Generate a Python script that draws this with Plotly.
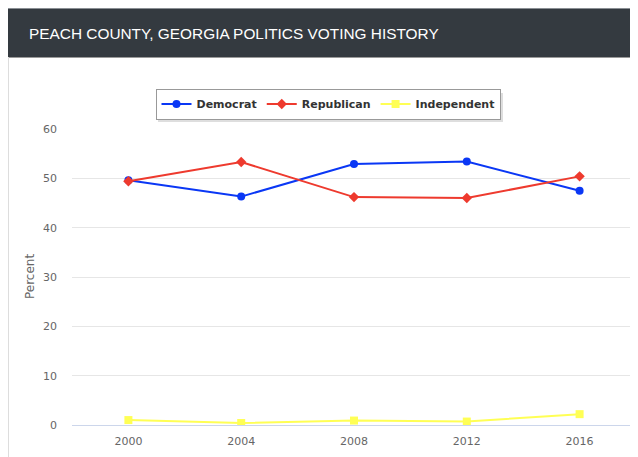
import plotly.graph_objects as go

years = ["2000", "2004", "2008", "2012", "2016"]
democrat = [49.6, 46.3, 52.9, 53.4, 47.5]
republican = [49.4, 53.3, 46.2, 46.0, 50.4]
independent = [1.0, 0.4, 0.9, 0.7, 2.2]
y_ticks = [0, 10, 20, 30, 40, 50, 60]

# page body has an 8px margin, so the figure is placed at (8, 8)
OFF = 8
W, H = 630, 449
L, R, T, B = 64, 2, 121, 32
pw, ph = W - L - R, H - T - B

def px(x):
    return (x - OFF - L) / pw

def py(y):
    return (H - B - (y - OFF)) / ph

fig = go.Figure()
fig.add_trace(go.Scatter(x=years, y=democrat, name="Democrat", mode="lines+markers",
                         line=dict(color="#0a37f5", width=2),
                         marker=dict(symbol="circle", size=8, color="#0a37f5")))
fig.add_trace(go.Scatter(x=years, y=republican, name="Republican", mode="lines+markers",
                         line=dict(color="#ee3a2e", width=2),
                         marker=dict(symbol="diamond", size=8, color="#ee3a2e")))
fig.add_trace(go.Scatter(x=years, y=independent, name="Independent", mode="lines+markers",
                         line=dict(color="#ffff55", width=2),
                         marker=dict(symbol="square", size=8, color="#ffff55")))

shapes = [
    # header bar
    dict(type="rect", xref="paper", yref="paper", x0=px(8), x1=px(640), y0=py(57), y1=py(8),
         fillcolor="#343a40", line=dict(width=0), layer="below"),
    # header top line
    dict(type="line", xref="paper", yref="paper", x0=px(8), x1=px(640), y0=py(8.5), y1=py(8.5),
         line=dict(color="#8a8f94", width=1), layer="below"),
    # header bottom line
    dict(type="line", xref="paper", yref="paper", x0=px(8), x1=px(640), y0=py(57.5), y1=py(57.5),
         line=dict(color="#9a9a9a", width=1), layer="below"),
    # card left border
    dict(type="line", xref="paper", yref="paper", x0=px(8.5), x1=px(8.5), y0=py(57), y1=py(470),
         line=dict(color="#dddddd", width=1), layer="below"),
    # legend shadow
    dict(type="rect", xref="paper", yref="paper", x0=px(158), x1=px(503), y0=py(122), y1=py(93),
         fillcolor="rgba(0,0,0,0.13)", line=dict(width=0), layer="below"),
]

annotations = [
    dict(text="PEACH COUNTY, GEORGIA POLITICS VOTING HISTORY", xref="paper", yref="paper",
         x=px(27), y=py(33), xanchor="left", yanchor="middle", showarrow=False,
         font=dict(family="Liberation Sans, Arial, sans-serif", size=15.4, color="#ffffff")),
    dict(text="Percent", xref="paper", yref="paper", x=px(30), y=py(277), textangle=-90,
         xanchor="center", yanchor="middle", showarrow=False,
         font=dict(family="DejaVu Sans, sans-serif", size=12, color="#666666")),
]

fig.update_layout(
    width=W, height=H,
    margin=dict(l=L, r=R, t=T, b=B, pad=0),
    paper_bgcolor="white", plot_bgcolor="white",
    shapes=shapes, annotations=annotations,
    showlegend=True,
    legend=dict(orientation="h", x=px(328), y=py(104), xanchor="center", yanchor="middle",
                bgcolor="white", bordercolor="#999999", borderwidth=1,
                font=dict(family="DejaVu Sans, sans-serif", size=11, color="#333333", weight="bold"),
                itemwidth=30, tracegroupgap=0),
    xaxis=dict(type="category", range=[-0.5, 4.5], showgrid=False, showline=True,
               linecolor="#ccd6eb", linewidth=1, ticks="", zeroline=False,
               tickfont=dict(family="DejaVu Sans, sans-serif", size=11, color="#666666"),
               ticklabelstandoff=6, fixedrange=True),
    yaxis=dict(range=[0, 60], tickvals=y_ticks, showgrid=True, gridcolor="#e6e6e6", gridwidth=1,
               zeroline=False, showline=False, ticks="",
               tickfont=dict(family="DejaVu Sans, sans-serif", size=11, color="#666666"),
               ticklabelstandoff=14, fixedrange=True),
)

fig.write_html("out.html")
